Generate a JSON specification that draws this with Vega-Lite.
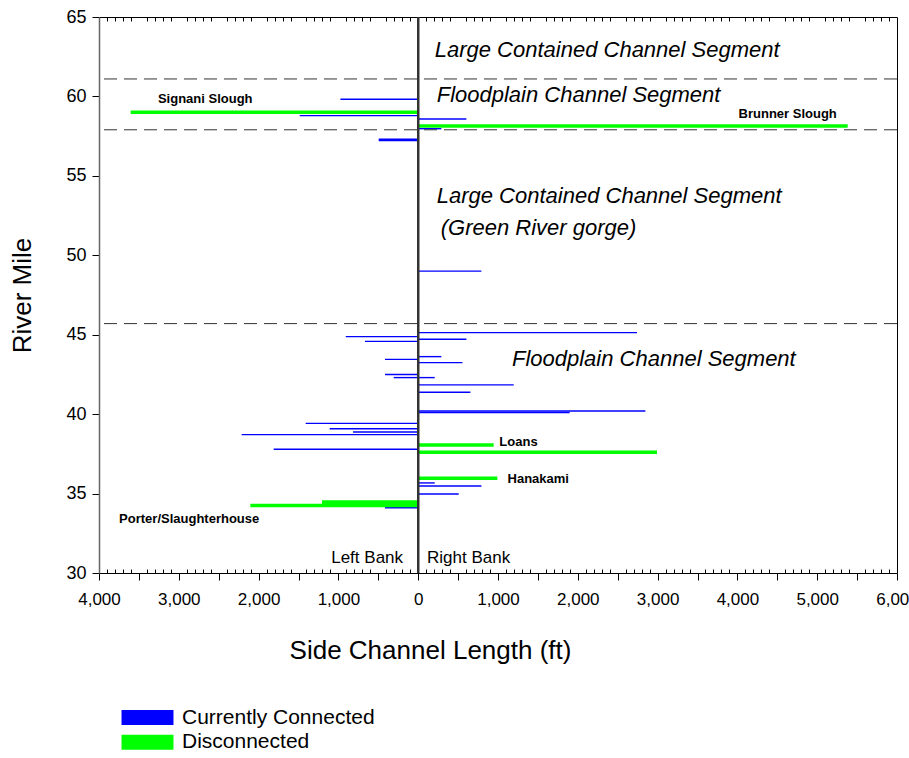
{
  "$schema": "https://vega.github.io/schema/vega-lite/v6.json",
  "width": 798,
  "height": 556,
  "autosize": {"type": "none"},
  "padding": {"left": 99, "top": 17, "right": 12, "bottom": 185},
  "config": {
    "font": "Liberation Sans",
    "view": {"stroke": "#000", "strokeWidth": 1},
    "axis": {"grid": false, "tickColor": "#000", "domainColor": "#000", "labelColor": "#000", "titleColor": "#000", "titleFontWeight": "normal"}
  },
  "datasets": {
    "channels": [
      {"mile": 59.82, "length": -975, "status": "Currently Connected"},
      {"mile": 58.79, "length": -1485, "status": "Currently Connected"},
      {"mile": 58.58, "length": 604, "status": "Currently Connected"},
      {"mile": 57.97, "length": 290, "status": "Currently Connected"},
      {"mile": 57.3, "length": -495, "status": "Currently Connected"},
      {"mile": 57.22, "length": -495, "status": "Currently Connected"},
      {"mile": 49.0, "length": 792, "status": "Currently Connected"},
      {"mile": 45.13, "length": 2742, "status": "Currently Connected"},
      {"mile": 44.88, "length": -908, "status": "Currently Connected"},
      {"mile": 44.71, "length": 604, "status": "Currently Connected"},
      {"mile": 44.58, "length": -667, "status": "Currently Connected"},
      {"mile": 43.62, "length": 290, "status": "Currently Connected"},
      {"mile": 43.45, "length": -416, "status": "Currently Connected"},
      {"mile": 43.24, "length": 554, "status": "Currently Connected"},
      {"mile": 42.5, "length": -416, "status": "Currently Connected"},
      {"mile": 42.3, "length": -307, "status": "Currently Connected"},
      {"mile": 42.3, "length": 207, "status": "Currently Connected"},
      {"mile": 41.84, "length": 1197, "status": "Currently Connected"},
      {"mile": 41.38, "length": 654, "status": "Currently Connected"},
      {"mile": 40.2, "length": 2847, "status": "Currently Connected"},
      {"mile": 40.1, "length": 1898, "status": "Currently Connected"},
      {"mile": 39.42, "length": -1410, "status": "Currently Connected"},
      {"mile": 39.08, "length": -1109, "status": "Currently Connected"},
      {"mile": 38.88, "length": -817, "status": "Currently Connected"},
      {"mile": 38.71, "length": -2212, "status": "Currently Connected"},
      {"mile": 37.79, "length": -1811, "status": "Currently Connected"},
      {"mile": 35.67, "length": 207, "status": "Currently Connected"},
      {"mile": 35.48, "length": 792, "status": "Currently Connected"},
      {"mile": 34.97, "length": 508, "status": "Currently Connected"},
      {"mile": 34.11, "length": -416, "status": "Currently Connected"},
      {"mile": 59.0, "length": -3603, "status": "Disconnected"},
      {"mile": 58.14, "length": 5382, "status": "Disconnected"},
      {"mile": 38.06, "length": 946, "status": "Disconnected"},
      {"mile": 37.6, "length": 2993, "status": "Disconnected"},
      {"mile": 35.96, "length": 992, "status": "Disconnected"},
      {"mile": 34.47, "length": -1206, "status": "Disconnected"},
      {"mile": 34.36, "length": -1206, "status": "Disconnected"},
      {"mile": 34.25, "length": -2103, "status": "Disconnected"}
    ],
    "boundaries": [{"mile": 61.1}, {"mile": 57.9}, {"mile": 45.7}],
    "segments": [
      {"x": 207, "mile": 62.92, "label": "Large Contained Channel Segment"},
      {"x": 232, "mile": 60.09, "label": "Floodplain Channel Segment"},
      {"x": 232, "mile": 53.73, "label": "Large Contained Channel Segment"},
      {"x": 282, "mile": 51.72, "label": "(Green River gorge)"},
      {"x": 1175, "mile": 43.45, "label": "Floodplain Channel Segment"}
    ],
    "names": [
      {"x": -2669, "mile": 59.84, "label": "Signani Slough"},
      {"x": 4630, "mile": 58.88, "label": "Brunner Slough"},
      {"x": 1257, "mile": 38.27, "label": "Loans"},
      {"x": 1504, "mile": 35.92, "label": "Hanakami"},
      {"x": -2870, "mile": 33.42, "label": "Porter/Slaughterhouse"}
    ],
    "leftbank": [{"x": -190, "mile": 30.95, "label": "Left Bank"}],
    "rightbank": [{"x": 110, "mile": 30.95, "label": "Right Bank"}]
  },
  "resolve": {"axis": {"x": "independent"}},
  "layer": [
    {
      "data": {"name": "channels"},
      "mark": {"type": "rule", "strokeCap": "butt"},
      "encoding": {
        "x": {
          "field": "length", "type": "quantitative",
          "scale": {"domain": [-4000, 6000], "nice": false, "zero": false},
          "axis": {
            "orient": "bottom",
            "tickCount": 100,
            "labelExpr": "datum.value % 1000 === 0 ? format(abs(datum.value), ',') : ''",
            "labelOverlap": false,
            "labelFlush": false,
            "labelFontSize": 17,
            "labelPadding": 11,
            "tickSize": {"condition": {"test": "datum.value % 500 === 0", "value": 7}, "value": -4},
            "title": "Side Channel Length (ft)",
            "titleFontSize": 26,
            "titlePadding": 30,
            "titleX": 331,
            "titleAlign": "center"
          }
        },
        "x2": {"datum": 0},
        "y": {
          "field": "mile", "type": "quantitative",
          "scale": {"domain": [30, 65], "nice": false, "zero": false},
          "axis": {
            "values": [30, 35, 40, 45, 50, 55, 60, 65],
            "tickSize": 7,
            "labelPadding": 6,
            "labelFontSize": 18,
            "title": "River Mile",
            "titleFontSize": 26,
            "titlePadding": 30,
            "domainColor": "#666",
            "domainWidth": 1.5
          }
        },
        "color": {
          "field": "status", "type": "nominal",
          "scale": {"domain": ["Currently Connected", "Disconnected"], "range": ["#0000FF", "#00FF00"]},
          "legend": {
            "orient": "none",
            "legendX": 38,
            "legendY": 690,
            "title": null,
            "padding": 0,
            "symbolType": "M-3,-0.866H3V0.866H-3Z",
            "symbolSize": 300,
            "symbolStrokeWidth": 0,
            "labelFontSize": 21,
            "labelOffset": 24,
            "labelLimit": 0,
            "rowPadding": 2.7,
            "encode": {"symbols": {"update": {"fill": {"scale": "color", "field": "value"}, "opacity": {"value": 1}}}}
          }
        },
        "strokeWidth": {"condition": {"test": "datum.status === 'Disconnected'", "value": 3.5}, "value": 1.4}
      }
    },
    {
      "data": {"name": "boundaries"},
      "mark": {"type": "rule", "strokeDash": [13, 7], "color": "#333", "strokeWidth": 1},
      "encoding": {"y": {"field": "mile", "type": "quantitative"}}
    },
    {
      "data": {"name": "boundaries"},
      "mark": {"type": "rule", "color": "#333", "strokeWidth": 2},
      "encoding": {"x": {"datum": 0, "axis": null}}
    },
    {
      "data": {"name": "segments"},
      "mark": {"type": "text", "align": "left", "baseline": "middle", "fontStyle": "italic", "fontSize": 22, "color": "#000"},
      "encoding": {
        "x": {"field": "x", "type": "quantitative", "axis": null},
        "y": {"field": "mile", "type": "quantitative"},
        "text": {"field": "label"}
      }
    },
    {
      "data": {"name": "names"},
      "mark": {"type": "text", "align": "center", "baseline": "middle", "fontWeight": "bold", "fontSize": 13, "color": "#000"},
      "encoding": {
        "x": {
          "field": "x", "type": "quantitative",
          "axis": {
            "tickCount": 100,
            "labels": false,
            "domain": false,
            "title": null,
            "tickSize": {"condition": {"test": "datum.value % 500 === 0", "value": 0}, "value": -4}
          }
        },
        "y": {"field": "mile", "type": "quantitative"},
        "text": {"field": "label"}
      }
    },
    {
      "data": {"name": "leftbank"},
      "mark": {"type": "text", "align": "right", "baseline": "middle", "fontSize": 17, "color": "#000"},
      "encoding": {
        "x": {"field": "x", "type": "quantitative", "axis": null},
        "y": {"field": "mile", "type": "quantitative"},
        "text": {"field": "label"}
      }
    },
    {
      "data": {"name": "rightbank"},
      "mark": {"type": "text", "align": "left", "baseline": "middle", "fontSize": 17, "color": "#000"},
      "encoding": {
        "x": {"field": "x", "type": "quantitative", "axis": null},
        "y": {"field": "mile", "type": "quantitative"},
        "text": {"field": "label"}
      }
    }
  ]
}
